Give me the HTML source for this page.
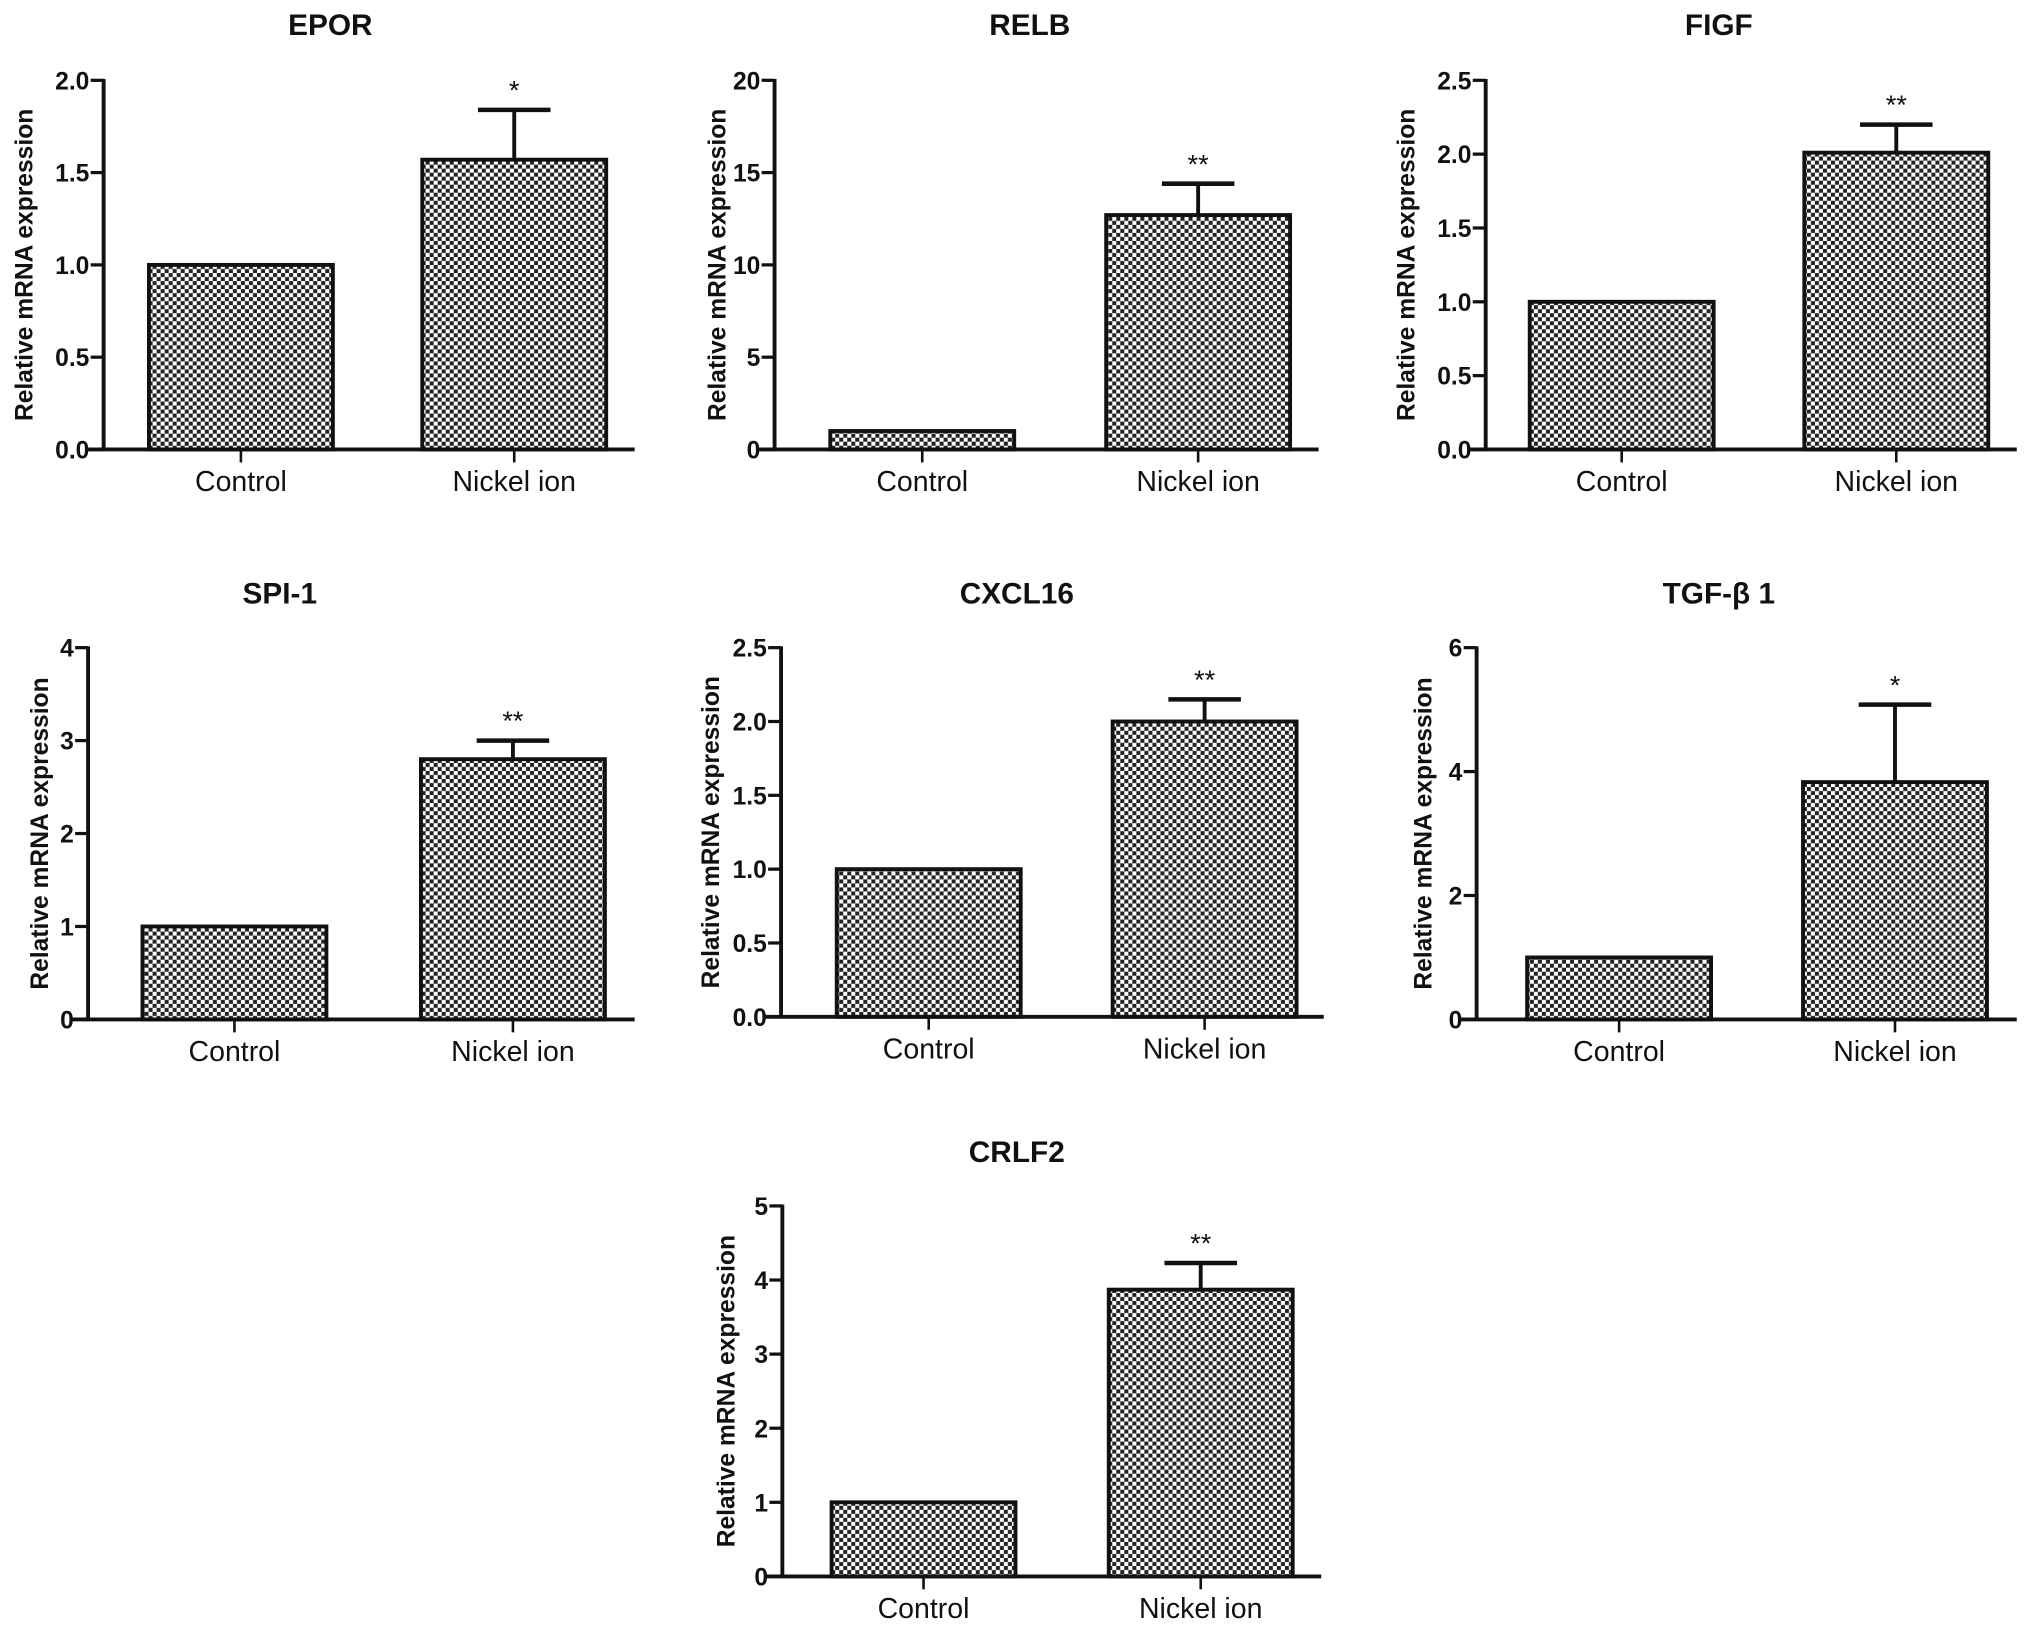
<!DOCTYPE html>
<html><head><meta charset="utf-8"><style>
html,body{margin:0;padding:0;background:#fff;}
svg{display:block;}
text{font-family:"Liberation Sans",Arial,sans-serif;fill:#111;}
</style></head><body>
<svg id="fig" width="2031" height="1633" viewBox="0 0 1568 1260.7" preserveAspectRatio="none" xmlns="http://www.w3.org/2000/svg">
<defs>
<pattern id="chk" patternUnits="userSpaceOnUse" width="6.2" height="6.2">
<rect width="6.2" height="6.2" fill="#fff"/>
<rect width="3.1" height="3.1" fill="#222"/>
<rect x="3.1" y="3.1" width="3.1" height="3.1" fill="#222"/>
</pattern>
</defs>
</svg>
<script>
const titles=["EPOR","RELB","FIGF","SPI-1","CXCL16","TGF-β 1","CRLF2"];
const categories=["Control","Nickel ion"];
const controlVals=[1,1,1,1,1,1,1];
const nickelVals=[1.57,12.7,2.01,2.8,2.0,3.83,3.87];
const nickelErr=[0.27,1.7,0.19,0.2,0.15,1.25,0.36];
const yMax=[2.0,20,2.5,4,2.5,6,5];
const yTicks=[["0.0","0.5","1.0","1.5","2.0"],["0","5","10","15","20"],["0.0","0.5","1.0","1.5","2.0","2.5"],["0","1","2","3","4"],["0.0","0.5","1.0","1.5","2.0","2.5"],["0","2","4","6"],["0","1","2","3","4","5"]];
const sig=["*","**","**","**","**","*","**"];
// layout: axis x, top y, bottom y, bar1 x, bar2 x, axis end, title x, title y, y-label offset
const layout=[[80,62,347,115,326,490,255,27,62],[598,62,347,641,854,1018,795,27,45],[1147,62,347,1181,1393,1557,1327,27,62],[68,500,787,110,325,490,216,466,38],[603,500,785,646,859,1022,785,466,55],[1140,500,787,1179,1392,1557,1327,466,42],[604,931,1217,642,856,1020,785,897,44]];
const NS="http://www.w3.org/2000/svg";
const svg=document.getElementById('fig');
function mk(tag,attrs,parent){const e=document.createElementNS(NS,tag);for(const k in attrs)e.setAttribute(k,attrs[k]);(parent||svg).appendChild(e);return e;}
const BW=142;
titles.forEach((t,i)=>{
  const [ax,top,bot,b1,b2,xend,tx,ty,lo]=layout[i];
  const g=mk('g',{});
  
  
  const y=v=>bot-(v/yMax[i])*(bot-top);
  const tt=mk('text',{x:tx,y:ty,'text-anchor':'middle','font-size':23,'font-weight':'bold'},g);tt.textContent=t;
  
  
  const lab=mk('text',{transform:`translate(${ax-lo+7},${(top+bot)/2}) rotate(-90)`,'text-anchor':'middle','font-size':19,'font-weight':'bold'},g);lab.textContent="Relative mRNA expression";
  
  
  const vals=[controlVals[i],nickelVals[i]];
  [b1,b2].forEach((bx,j)=>{
    if(j===1){
      const ey=y(nickelVals[i]+nickelErr[i]);
      mk('line',{x1:bx+BW/2,x2:bx+BW/2,y1:y(vals[j]),y2:ey,stroke:'#111','stroke-width':3},g);
      mk('line',{x1:bx+BW/2-28,x2:bx+BW/2+28,y1:ey,y2:ey,stroke:'#111','stroke-width':3.5},g);
      const s=mk('text',{x:bx+BW/2,y:ey-8,'text-anchor':'middle','font-size':21},g);s.textContent=sig[i];
      
      
    }
    const r=mk('rect',{x:bx,y:y(vals[j]),width:BW,height:bot-y(vals[j]),fill:'url(#chk)',stroke:'#111','stroke-width':3},g);
    
    
    mk('line',{x1:bx+BW/2,x2:bx+BW/2,y1:bot,y2:bot+10,stroke:'#111','stroke-width':2},g);
    const c=mk('text',{x:bx+BW/2,y:bot+32,'text-anchor':'middle','font-size':22},g);c.textContent=categories[j];
    
    
  });
  const ya=mk('line',{x1:ax,x2:ax,y1:top-1,y2:bot,stroke:'#111','stroke-width':3},g);
  
  
  const xa=mk('line',{x1:ax-12,x2:xend,y1:bot,y2:bot,stroke:'#111','stroke-width':3},g);
  
  
  const n=yTicks[i].length;
  yTicks[i].forEach((lbl,k)=>{
    const v=yMax[i]*k/(n-1);const yy=y(v);
    mk('line',{x1:ax-10,x2:ax,y1:yy,y2:yy,stroke:'#111','stroke-width':2.5},g);
    const tl=mk('text',{x:ax-11,y:yy+7,'text-anchor':'end','font-size':19,'font-weight':'bold'},g);tl.textContent=lbl;
    
    
  });
});
</script>
</body></html>
